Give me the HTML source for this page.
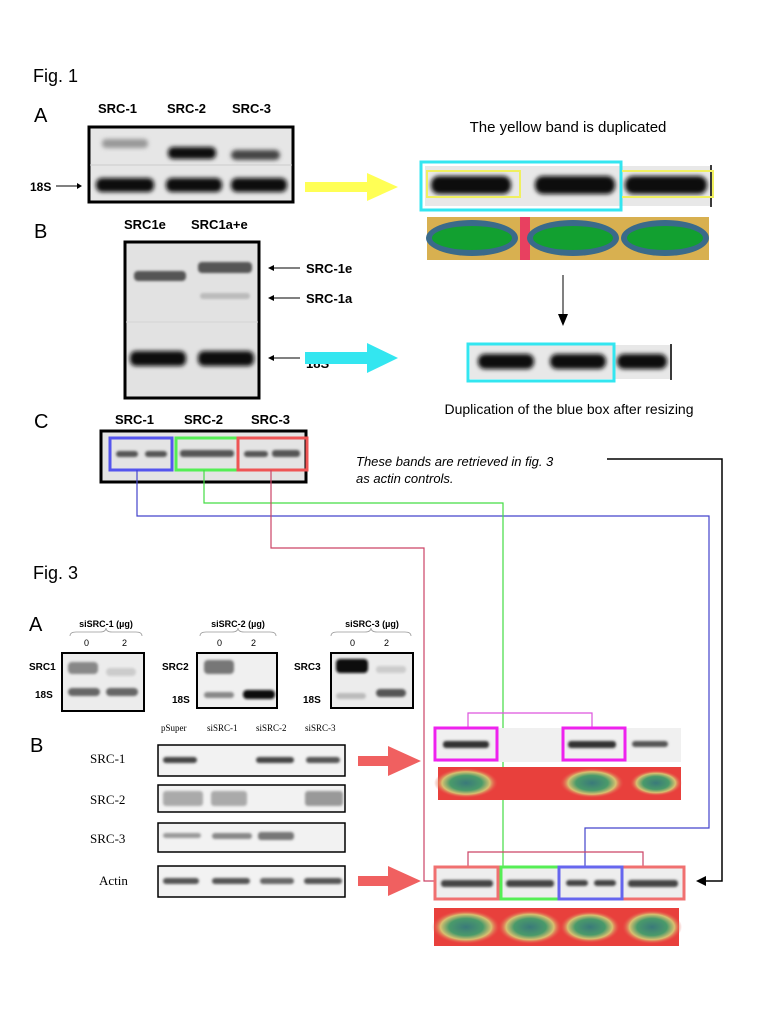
<!DOCTYPE html>
<html><head><meta charset="utf-8"><style>
html,body{margin:0;padding:0;background:#fff;}
svg{display:block;}
text{font-family:"Liberation Sans",sans-serif;}
.b{font-weight:bold;}
.s{font-family:"Liberation Serif",serif;}
</style></head><body>
<svg width="768" height="1023" viewBox="0 0 768 1023" xmlns="http://www.w3.org/2000/svg">
<defs>
<filter id="bl" x="-20%" y="-50%" width="140%" height="200%"><feGaussianBlur stdDeviation="2"/></filter>
<filter id="bl2" x="-20%" y="-50%" width="140%" height="200%"><feGaussianBlur stdDeviation="1.2"/></filter>
<radialGradient id="hg" cx="50%" cy="50%" r="50%"><stop offset="0" stop-color="#1a9a3a"/><stop offset="0.55" stop-color="#2a6a8a"/><stop offset="0.75" stop-color="#c8c060"/><stop offset="1" stop-color="#e84848" stop-opacity="0"/></radialGradient>
<radialGradient id="hg2" cx="50%" cy="50%" r="50%"><stop offset="0" stop-color="#3a7a7a"/><stop offset="0.5" stop-color="#4a9a6a"/><stop offset="0.75" stop-color="#d8c070"/><stop offset="1" stop-color="#e84848" stop-opacity="0"/></radialGradient>
</defs>

<!-- Fig 1 -->
<text x="33" y="82" font-size="18">Fig. 1</text>
<text x="34" y="122" font-size="20">A</text>
<text x="98" y="113" font-size="13" class="b">SRC-1</text>
<text x="167" y="113" font-size="13" class="b">SRC-2</text>
<text x="232" y="113" font-size="13" class="b">SRC-3</text>
<rect x="89" y="127" width="204" height="75" fill="#e6e6e6" stroke="#000" stroke-width="3"/>
<line x1="90" y1="165" x2="292" y2="165" stroke="#ccc" stroke-width="1"/>
<g filter="url(#bl)">
<rect x="102" y="139" width="46" height="9" rx="4" fill="#999"/>
<rect x="168" y="147" width="48" height="12" rx="5" fill="#111"/>
<rect x="231" y="150" width="49" height="10" rx="5" fill="#444"/>
<rect x="96" y="178" width="58" height="14" rx="6" fill="#111"/>
<rect x="166" y="178" width="56" height="14" rx="6" fill="#111"/>
<rect x="231" y="178" width="56" height="14" rx="6" fill="#111"/>
</g>
<text x="30" y="191" font-size="12" class="b">18S</text>
<line x1="56" y1="186" x2="79" y2="186" stroke="#000"/><path d="M82 186 l-5 -3 v6z"/>
<path d="M305 182 h62 v-9 l31 14 l-31 14 v-9 h-62z" fill="#ffff55"/>

<text x="34" y="238" font-size="20">B</text>
<text x="124" y="229" font-size="13" class="b">SRC1e</text>
<text x="191" y="229" font-size="13" class="b">SRC1a+e</text>
<rect x="125" y="242" width="134" height="156" fill="#e2e2e2" stroke="#000" stroke-width="3"/>
<line x1="126" y1="322" x2="258" y2="322" stroke="#d4d4d4"/>
<g filter="url(#bl2)">
<rect x="134" y="271" width="52" height="10" rx="4" fill="#555"/>
<rect x="198" y="262" width="54" height="11" rx="4" fill="#555"/>
<rect x="200" y="293" width="50" height="6" rx="3" fill="#bbb"/>
</g>
<g filter="url(#bl)">
<rect x="130" y="351" width="56" height="15" rx="6" fill="#0a0a0a"/>
<rect x="198" y="351" width="56" height="15" rx="6" fill="#0a0a0a"/>
</g>
<line x1="270" y1="268" x2="300" y2="268" stroke="#000"/><path d="M268 268 l6 -3 v6z"/>
<text x="306" y="273" font-size="13" class="b">SRC-1e</text>
<line x1="270" y1="298" x2="300" y2="298" stroke="#000"/><path d="M268 298 l6 -3 v6z"/>
<text x="306" y="303" font-size="13" class="b">SRC-1a</text>
<line x1="270" y1="358" x2="300" y2="358" stroke="#000"/><path d="M268 358 l6 -3 v6z"/>
<text x="306" y="368" font-size="13" class="b">18S</text>
<path d="M305 352 h62 v-9 l31 15 l-31 15 v-9 h-62z" fill="#33e6f0"/>

<text x="34" y="428" font-size="20">C</text>
<text x="115" y="424" font-size="13" class="b">SRC-1</text>
<text x="184" y="424" font-size="13" class="b">SRC-2</text>
<text x="251" y="424" font-size="13" class="b">SRC-3</text>
<rect x="101" y="431" width="205" height="51" fill="#e4e4e4" stroke="#000" stroke-width="3"/>
<g filter="url(#bl2)" fill="#555">
<rect x="116" y="451" width="22" height="6" rx="3"/><rect x="145" y="451" width="22" height="6" rx="3"/>
<rect x="180" y="450" width="54" height="7" rx="3"/>
<rect x="244" y="451" width="24" height="6" rx="3"/><rect x="272" y="450" width="28" height="7" rx="3"/>
</g>
<rect x="110" y="438" width="62" height="32" fill="none" stroke="#5555ee" stroke-width="3"/>
<rect x="176" y="438" width="62" height="32" fill="none" stroke="#55ee55" stroke-width="3"/>
<rect x="238" y="438" width="69" height="32" fill="none" stroke="#ee5555" stroke-width="3"/>

<text x="356" y="466" font-size="13" font-style="italic">These bands are retrieved in fig. 3</text>
<text x="356" y="483" font-size="13" font-style="italic">as actin controls.</text>

<!-- right side top -->
<text x="568" y="132" font-size="15" text-anchor="middle">The yellow band is duplicated</text>
<rect x="425" y="166" width="287" height="40" fill="#e8e8e8"/>
<line x1="711" y1="165" x2="711" y2="207" stroke="#000" stroke-width="1.5"/>
<g filter="url(#bl)" fill="#0d0d0d">
<rect x="431" y="176" width="80" height="18" rx="8"/>
<rect x="535" y="176" width="80" height="18" rx="8"/>
<rect x="625" y="176" width="82" height="18" rx="8"/>
</g>
<rect x="421" y="162" width="200" height="48" fill="none" stroke="#33e6f0" stroke-width="3"/>
<rect x="427" y="171" width="93" height="26" fill="none" stroke="#f0f060" stroke-width="2"/>
<path d="M622 171 H713 V197 H622" fill="none" stroke="#f0f060" stroke-width="2"/>
<rect x="427" y="217" width="282" height="43" fill="#d8b050"/>
<rect x="520" y="217" width="10" height="43" fill="#e84060"/>
<g><ellipse cx="472" cy="238" rx="46" ry="18" fill="#3a6a8a"/><ellipse cx="472" cy="238" rx="40" ry="12" fill="#12a030"/>
<ellipse cx="573" cy="238" rx="46" ry="18" fill="#3a6a8a"/><ellipse cx="573" cy="238" rx="40" ry="12" fill="#12a030"/>
<ellipse cx="665" cy="238" rx="44" ry="18" fill="#3a6a8a"/><ellipse cx="665" cy="238" rx="38" ry="12" fill="#12a030"/></g>
<line x1="563" y1="275" x2="563" y2="315" stroke="#000"/><path d="M563 326 l-5 -12 h10z"/>
<rect x="470" y="345" width="202" height="34" fill="#e8e8e8"/>
<line x1="671" y1="344" x2="671" y2="380" stroke="#000" stroke-width="1.5"/>
<g filter="url(#bl)" fill="#0d0d0d">
<rect x="478" y="354" width="56" height="15" rx="7"/>
<rect x="550" y="354" width="56" height="15" rx="7"/>
<rect x="617" y="354" width="50" height="15" rx="7"/>
</g>
<rect x="468" y="344" width="146" height="37" fill="none" stroke="#33e6f0" stroke-width="3"/>
<text x="569" y="414" font-size="14" text-anchor="middle">Duplication of the blue box after resizing</text>

<!-- connectors -->
<polyline points="607,459 722,459 722,881 704,881" fill="none" stroke="#000" stroke-width="1.5"/>
<path d="M696 881 l10 -5 v10z"/>
<polyline points="137,470 137,516 709,516 709,828 585,828 585,868" fill="none" stroke="#4444cc" stroke-width="1.2"/>
<polyline points="204,470 204,503 503,503 503,868" fill="none" stroke="#44dd44" stroke-width="1.2"/>
<polyline points="271,470 271,548 424,548 424,881 436,881" fill="none" stroke="#cc4466" stroke-width="1.2"/>

<!-- Fig 3 -->
<text x="33" y="579" font-size="18">Fig. 3</text>
<text x="29" y="631" font-size="20">A</text>
<g font-size="9" class="b">
<text x="106" y="627" text-anchor="middle" class="b">siSRC-1 (µg)</text>
<text x="238" y="627" text-anchor="middle" class="b">siSRC-2 (µg)</text>
<text x="372" y="627" text-anchor="middle" class="b">siSRC-3 (µg)</text>
</g>
<g fill="none" stroke="#999" stroke-width="0.8">
<path d="M70 636 q0 -4 6 -4 h24 q6 0 6 -4 q0 4 6 4 h24 q6 0 6 4"/>
<path d="M200 636 q0 -4 6 -4 h26 q6 0 6 -4 q0 4 6 4 h26 q6 0 6 4"/>
<path d="M331 636 q0 -4 6 -4 h28 q6 0 6 -4 q0 4 6 4 h28 q6 0 6 4"/>
</g>
<g font-size="9"><text x="84" y="646">0</text><text x="122" y="646">2</text>
<text x="217" y="646">0</text><text x="251" y="646">2</text>
<text x="350" y="646">0</text><text x="384" y="646">2</text></g>
<rect x="62" y="653" width="82" height="58" fill="#ececec" stroke="#000" stroke-width="2"/>
<rect x="197" y="653" width="80" height="55" fill="#f0f0f0" stroke="#000" stroke-width="2"/>
<rect x="331" y="653" width="82" height="55" fill="#ececec" stroke="#000" stroke-width="2"/>
<g filter="url(#bl2)">
<rect x="68" y="662" width="30" height="12" rx="4" fill="#888"/><rect x="106" y="668" width="30" height="8" rx="4" fill="#ccc"/>
<rect x="68" y="688" width="32" height="8" rx="4" fill="#666"/><rect x="106" y="688" width="32" height="8" rx="4" fill="#666"/>
<rect x="204" y="660" width="30" height="14" rx="4" fill="#777"/>
<rect x="204" y="692" width="30" height="6" rx="3" fill="#888"/><rect x="243" y="690" width="32" height="9" rx="4" fill="#111"/>
<rect x="336" y="659" width="32" height="14" rx="4" fill="#111"/><rect x="376" y="666" width="30" height="7" rx="3" fill="#ccc"/>
<rect x="336" y="693" width="30" height="6" rx="3" fill="#bbb"/><rect x="376" y="689" width="30" height="8" rx="4" fill="#555"/>
</g>
<g font-size="10" class="b">
<text x="29" y="670" class="b">SRC1</text><text x="35" y="698" class="b">18S</text>
<text x="162" y="670" class="b">SRC2</text><text x="172" y="703" class="b">18S</text>
<text x="294" y="670" class="b">SRC3</text><text x="303" y="703" class="b">18S</text>
</g>
<g font-size="9" class="s">
<text x="161" y="731" class="s">pSuper</text><text x="207" y="731" class="s">siSRC-1</text>
<text x="256" y="731" class="s">siSRC-2</text><text x="305" y="731" class="s">siSRC-3</text>
</g>
<text x="30" y="752" font-size="20">B</text>
<g font-size="13" class="s">
<text x="90" y="763" class="s">SRC-1</text><text x="90" y="804" class="s">SRC-2</text>
<text x="90" y="843" class="s">SRC-3</text><text x="99" y="885" class="s">Actin</text>
</g>
<g fill="#f2f2f2" stroke="#000" stroke-width="1.5">
<rect x="158" y="745" width="187" height="31"/><rect x="158" y="785" width="187" height="27"/>
<rect x="158" y="823" width="187" height="29"/><rect x="158" y="866" width="187" height="31"/>
</g>
<g filter="url(#bl2)">
<rect x="163" y="757" width="34" height="6" rx="3" fill="#444"/><rect x="256" y="757" width="38" height="6" rx="3" fill="#444"/><rect x="306" y="757" width="34" height="6" rx="3" fill="#555"/>
<rect x="163" y="791" width="40" height="15" rx="3" fill="#aaa"/><rect x="211" y="791" width="36" height="15" rx="3" fill="#aaa"/><rect x="305" y="791" width="38" height="15" rx="3" fill="#999"/>
<rect x="163" y="833" width="38" height="5" rx="3" fill="#999"/><rect x="212" y="833" width="40" height="6" rx="3" fill="#888"/><rect x="258" y="832" width="36" height="8" rx="3" fill="#777"/>
<rect x="163" y="878" width="36" height="6" rx="3" fill="#555"/><rect x="212" y="878" width="38" height="6" rx="3" fill="#555"/><rect x="260" y="878" width="34" height="6" rx="3" fill="#666"/><rect x="304" y="878" width="38" height="6" rx="3" fill="#555"/>
</g>
<path d="M358 756 h30 v-10 l33 15 l-33 15 v-10 h-30z" fill="#f06060"/>
<path d="M358 876 h30 v-10 l33 15 l-33 15 v-10 h-30z" fill="#f06060"/>

<!-- right side Fig3 -->
<polyline points="468,727 468,713 592,713 592,727" fill="none" stroke="#dd55dd" stroke-width="1.2"/>
<rect x="437" y="728" width="244" height="34" fill="#f0f0f0"/>
<g filter="url(#bl2)" fill="#333">
<rect x="443" y="741" width="46" height="7" rx="3"/><rect x="568" y="741" width="48" height="7" rx="3"/><rect x="632" y="741" width="36" height="6" rx="3" fill="#555"/>
</g>
<rect x="435" y="728" width="62" height="32" fill="none" stroke="#ee22ee" stroke-width="3"/>
<rect x="563" y="728" width="62" height="32" fill="none" stroke="#ee22ee" stroke-width="3"/>
<rect x="438" y="767" width="243" height="33" fill="#e8403c"/>
<ellipse cx="466" cy="783" rx="32" ry="15" fill="url(#hg2)"/>
<ellipse cx="592" cy="783" rx="32" ry="15" fill="url(#hg2)"/>
<ellipse cx="656" cy="783" rx="26" ry="13" fill="url(#hg2)"/>

<polyline points="468,867 468,852 643,852 643,867" fill="none" stroke="#cc4466" stroke-width="1.2"/>
<rect x="436" y="868" width="248" height="31" fill="#eeeeee"/>
<g filter="url(#bl2)" fill="#444">
<rect x="441" y="880" width="52" height="7" rx="3"/><rect x="506" y="880" width="48" height="7" rx="3"/>
<rect x="566" y="880" width="22" height="6" rx="3"/><rect x="594" y="880" width="22" height="6" rx="3"/>
<rect x="628" y="880" width="50" height="7" rx="3"/>
</g>
<rect x="435" y="867" width="63" height="32" fill="none" stroke="#f07070" stroke-width="3"/>
<rect x="622" y="867" width="62" height="32" fill="none" stroke="#f07070" stroke-width="3"/>
<rect x="501" y="867" width="58" height="32" fill="none" stroke="#55ee55" stroke-width="3"/>
<rect x="559" y="867" width="63" height="32" fill="none" stroke="#6666ee" stroke-width="3"/>
<rect x="434" y="908" width="245" height="38" fill="#e8403c"/>
<ellipse cx="466" cy="927" rx="34" ry="17" fill="url(#hg2)"/>
<ellipse cx="530" cy="927" rx="32" ry="17" fill="url(#hg2)"/>
<ellipse cx="590" cy="927" rx="30" ry="16" fill="url(#hg2)"/>
<ellipse cx="652" cy="927" rx="30" ry="17" fill="url(#hg2)"/>
</svg>
</body></html>
